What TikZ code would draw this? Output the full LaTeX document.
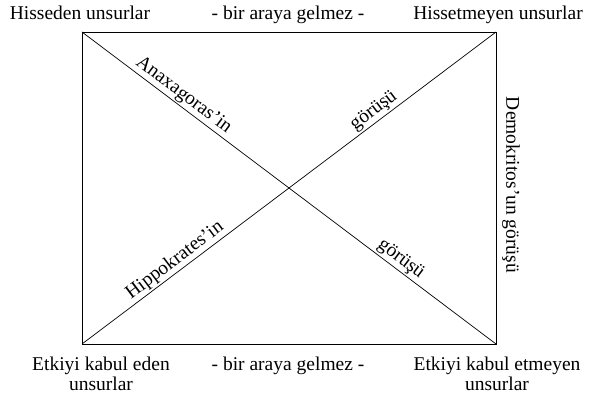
\documentclass[tikz,border=0pt]{standalone}
\usepackage{fontspec}
\setmainfont{Liberation Serif}
\usetikzlibrary{positioning}

\begin{document}
\begin{tikzpicture}[x=1pt,y=-1pt,font=\fontsize{19.5}{19.5}\selectfont,
  lbl/.style={align=center,inner sep=0pt},
  diag/.style={sloped,above,inner sep=1.5pt}]
\useasboundingbox (0,0) rectangle (589,395);
% corners of the box
\coordinate (tl) at (82,32);
\coordinate (tr) at (496,32);
\coordinate (bl) at (82,344);
\coordinate (br) at (496,344);
\draw[line width=0.8pt] (tl) rectangle (br);
% the two views
\draw[line width=0.7pt] (tl) -- (br)
  node[diag,pos=0.23] (anax) {Anaxagoras'in}
  node[diag,pos=0.755] (anaxg) {görüşü};
\draw[line width=0.7pt] (bl) -- (tr)
  node[diag,pos=0.24] (hipp) {Hippokrates'in}
  node[diag,pos=0.72] (hippg) {görüşü};
% top row
\node[lbl,anchor=base] (hiss) at (80,20) {Hisseden unsurlar};
\node[lbl,anchor=base] (ustara) at (288,20) {- bir araya gelmez -};
\node[lbl,anchor=base] (hissm) at (498,20) {Hissetmeyen unsurlar};
% bottom row
\node[lbl,anchor=north] (etk) at (101,357) {Etkiyi kabul eden\\unsurlar};
\node[lbl,anchor=north] (altara) at (288,357) {- bir araya gelmez -};
\node[lbl,anchor=north] (etkm) at (497,357) {Etkiyi kabul etmeyen\\unsurlar};
% right side
\node[lbl,rotate=-90] (demo) at (511,185) {Demokritos'un görüşü};
\end{tikzpicture}
\end{document}
